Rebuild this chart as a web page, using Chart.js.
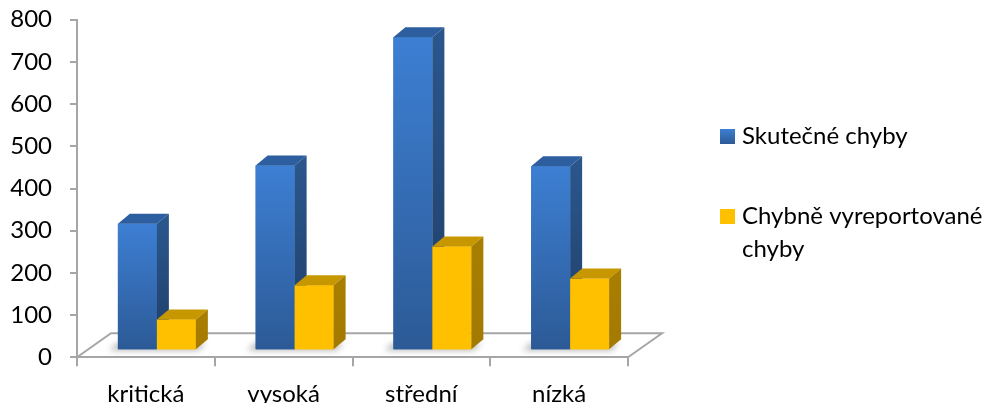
<!DOCTYPE html>
<html lang="cs">
<head>
<meta charset="utf-8">
<script src="https://cdn.jsdelivr.net/npm/chart.js@4/dist/chart.umd.min.js"></script>
<style>
  html, body { margin: 0; padding: 0; background: #ffffff; }
  canvas { display: block; }
</style>
</head>
<body>
<canvas id="chyby" width="995" height="403"></canvas>
<script>
// Závažnost chyb a počty
const categories = ['kritická', 'vysoká', 'střední', 'nízká'];
const seriesNames = ['Skutečné chyby', 'Chybně vyreportované chyby'];
const skutecneChyby = [300, 438, 742, 436];
const chybneVyreportovane = [73, 154, 246, 170];
const yMin = 0, yMax = 800, yStep = 100;

const FONT = 'Lato, "Open Sans", sans-serif';
const FONT_SIZE = 24;
const AXIS_GREY = '#a6a6a6';

// barvy stěn sloupců: čelo (gradient), víko, bok
const faces = [
  { front: ['#3d7fd3', '#2c5a96'], top: '#2d5e9f', side: ['#2a568c', '#1f3e68'], legend: ['#3d7fd3', '#2c5a96'] },
  { front: ['#ffc000', '#ffc000'], top: '#c79700', side: ['#a87e00', '#a37a00'], legend: ['#ffc000', '#ffc000'] }
];
const DEPTH = { dx: 12, dy: -10 };     // hloubka kvádru
const SHIFT = { dx: 11, dy: -7 };      // posun sloupců do podlahy
const FLOOR = { dx: 34, dy: -24 };     // hloubka podlahy

const floorPlugin = {
  id: 'floor3d',
  beforeDatasetsDraw(chart) {
    const { ctx, chartArea: a } = chart;
    ctx.save();
    ctx.strokeStyle = AXIS_GREY;
    ctx.lineWidth = 2;
    ctx.beginPath();
    ctx.moveTo(a.left, a.bottom);
    ctx.lineTo(a.left + FLOOR.dx, a.bottom + FLOOR.dy);
    ctx.lineTo(a.right + FLOOR.dx, a.bottom + FLOOR.dy);
    ctx.lineTo(a.right, a.bottom);
    ctx.stroke();

    // měkký stín pod dvojicemi sloupců
    const m0 = chart.getDatasetMeta(0), m1 = chart.getDatasetMeta(1);
    ctx.filter = 'blur(3px)';
    ctx.fillStyle = 'rgba(0,0,0,0.3)';
    m0.data.forEach((b0, i) => {
      const b1 = m1.data[i];
      const l = b0.x - b0.width / 2 + SHIFT.dx;
      const r = b1.x + b1.width / 2 + SHIFT.dx;
      const yb = b0.base + SHIFT.dy;
      ctx.beginPath();
      ctx.moveTo(l - 9, yb + 1);
      ctx.lineTo(r + 2, yb + 1);
      ctx.lineTo(r + 10, yb - 6);
      ctx.lineTo(l, yb - 6);
      ctx.closePath();
      ctx.fill();
    });
    ctx.restore();
  }
};

// kvádry: čelo, víko a bok každého sloupce, řada po řadě
const barsPlugin = {
  id: 'bars3d',
  beforeDatasetsDraw(chart) {
    chart.ctx.save();
    chart.ctx.translate(SHIFT.dx, SHIFT.dy);
  },
  afterDatasetsDraw(chart) {
    const ctx = chart.ctx;
    const n = chart.data.labels.length;
    for (let i = 0; i < n; i++) {
      chart.data.datasets.forEach((ds, d) => {
        const bar = chart.getDatasetMeta(d).data[i];
        const f = faces[d];
        const { x, y, base, width } = bar.getProps(['x', 'y', 'base', 'width'], true);
        const l = x - width / 2, r = x + width / 2;
        const g = ctx.createLinearGradient(0, y, 0, base);
        g.addColorStop(0, f.front[0]);
        g.addColorStop(1, f.front[1]);
        ctx.fillStyle = g;
        ctx.fillRect(l, y, r - l, base - y);

        ctx.fillStyle = f.top;
        ctx.beginPath();
        ctx.moveTo(l, y);
        ctx.lineTo(l + DEPTH.dx, y + DEPTH.dy);
        ctx.lineTo(r + DEPTH.dx, y + DEPTH.dy);
        ctx.lineTo(r, y);
        ctx.closePath();
        ctx.fill();

        const gs = ctx.createLinearGradient(0, y, 0, base);
        gs.addColorStop(0, f.side[0]);
        gs.addColorStop(1, f.side[1]);
        ctx.fillStyle = gs;
        ctx.beginPath();
        ctx.moveTo(r, y);
        ctx.lineTo(r + DEPTH.dx, y + DEPTH.dy);
        ctx.lineTo(r + DEPTH.dx, base + DEPTH.dy);
        ctx.lineTo(r, base);
        ctx.closePath();
        ctx.fill();
      });
    }
    ctx.restore();
  }
};

const legendPlugin = {
  id: 'sideLegend',
  afterDraw(chart) {
    const ctx = chart.ctx;
    const x0 = 720, box = 15, textX = 742, lineH = 33, maxW = 995 - textX - 2;
    const itemTops = [129, 209];
    ctx.save();
    ctx.font = FONT_SIZE + 'px ' + FONT;
    ctx.textBaseline = 'alphabetic';
    ctx.textAlign = 'left';
    chart.data.datasets.forEach((ds, i) => {
      const top = itemTops[i];
      const g = ctx.createLinearGradient(0, top, 0, top + box);
      g.addColorStop(0, faces[i].legend[0]);
      g.addColorStop(1, faces[i].legend[1]);
      ctx.fillStyle = g;
      ctx.fillRect(x0, top, box, box);
      // zalomení textu
      const words = ds.label.split(' ');
      const lines = [];
      let cur = '';
      words.forEach(w => {
        const t = cur ? cur + ' ' + w : w;
        if (ctx.measureText(t).width > maxW && cur) { lines.push(cur); cur = w; } else { cur = t; }
      });
      lines.push(cur);
      ctx.fillStyle = '#000000';
      lines.forEach((ln, k) => ctx.fillText(ln, textX, top + 14.5 + k * lineH));
    });
    ctx.restore();
  }
};

new Chart(document.getElementById('chyby'), {
  type: 'bar',
  data: {
    labels: categories,
    datasets: [
      { label: seriesNames[0], data: skutecneChyby, backgroundColor: '#3670bb' },
      { label: seriesNames[1], data: chybneVyreportovane, backgroundColor: '#ffc000' }
    ]
  },
  options: {
    responsive: false,
    animation: false,
    devicePixelRatio: 1,
    layout: { padding: { left: 0, right: 367, top: 19.7, bottom: 0 } },
    datasets: { bar: { categoryPercentage: 0.566, barPercentage: 1, clip: false, borderWidth: 0 } },
    plugins: { legend: { display: false }, tooltip: { enabled: false } },
    scales: {
      x: {
        offset: true,
        afterFit(s) { s.height = 403 - 357.3; s.paddingLeft = 0; s.paddingRight = 0; },
        grid: { display: true, offset: true, drawOnChartArea: false, drawTicks: true, tickLength: 9, color: AXIS_GREY, lineWidth: 2 },
        border: { display: true, color: AXIS_GREY, width: 2 },
        ticks: { color: '#000000', font: { family: FONT, size: FONT_SIZE }, padding: 14, maxRotation: 0 }
      },
      y: {
        min: yMin, max: yMax,
        afterFit(s) { s.width = 77; s.paddingTop = 0; s.paddingBottom = 0; },
        grid: { display: true, drawOnChartArea: false, drawTicks: true, tickLength: 7, color: AXIS_GREY, lineWidth: 2 },
        border: { display: true, color: AXIS_GREY, width: 2 },
        ticks: { stepSize: yStep, color: '#000000', font: { family: FONT, size: FONT_SIZE }, padding: 18 }
      }
    }
  },
  plugins: [floorPlugin, barsPlugin, legendPlugin]
});
</script>
</body>
</html>
